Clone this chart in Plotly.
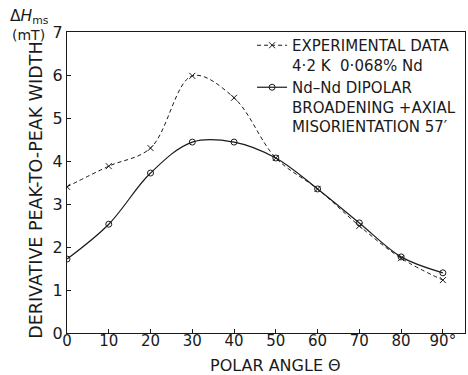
import plotly.graph_objects as go

angles = [0, 10, 20, 30, 40, 50, 60, 70, 80, 90]
experimental = [3.40, 3.88, 4.30, 5.98, 5.47, 4.07, 3.35, 2.49, 1.74, 1.23]
theory = [1.72, 2.53, 3.72, 4.44, 4.44, 4.07, 3.35, 2.56, 1.77, 1.40]
x_ticks = [0, 10, 20, 30, 40, 50, 60, 70, 80, 90]
x_tick_labels = ["0", "10", "20", "30", "40", "50", "60", "70", "80", "90°"]
y_ticks = [0, 1, 2, 3, 4, 5, 6, 7]

FONT = "DejaVu Sans"
INK = "#1a1a1a"

fig = go.Figure()
fig.add_trace(go.Scatter(
    x=angles, y=experimental, mode="lines+markers",
    name="EXPERIMENTAL DATA<br>4·2 K  0·068% Nd",
    line=dict(color=INK, width=1, dash="4px,3px", shape="spline", smoothing=1.0),
    marker=dict(symbol="x-thin-open", size=6, line=dict(color=INK, width=1), color=INK),
))
fig.add_trace(go.Scatter(
    x=angles, y=theory, mode="lines+markers",
    name="Nd–Nd DIPOLAR<br>BROADENING +AXIAL<br>MISORIENTATION 57′",
    line=dict(color=INK, width=1.2, shape="spline", smoothing=1.0),
    marker=dict(symbol="circle-open", size=6, line=dict(color=INK, width=1), color=INK),
))

fig.update_layout(
    width=468, height=375,
    margin=dict(l=67, r=3, t=32, b=42, autoexpand=False),
    paper_bgcolor="white", plot_bgcolor="white",
    font=dict(family=FONT, size=14, color=INK),
    showlegend=True,
    legend=dict(x=0.465, y=1.01, xanchor="left", yanchor="top",
                bgcolor="rgba(0,0,0,0)", valign="top",
                font=dict(family=FONT, size=15, color=INK),
                tracegroupgap=0, itemwidth=30),
)
fig.update_xaxes(
    range=[0, 95.3], tickvals=x_ticks, ticktext=x_tick_labels,
    ticks="inside", ticklen=4, tickcolor=INK,
    showline=True, linecolor=INK, linewidth=1, mirror=True,
    showgrid=False, zeroline=False, ticklabelstandoff=-6,
    tickfont=dict(family=FONT, size=15, color=INK),
)
fig.update_yaxes(
    range=[0, 7], tickvals=y_ticks,
    ticks="inside", ticklen=4, tickcolor=INK,
    showline=True, linecolor=INK, linewidth=1, mirror=True,
    showgrid=False, zeroline=False,
    tickfont=dict(family=FONT, size=16, color=INK),
)
fig.add_annotation(
    text="POLAR ANGLE Θ",
    xref="paper", yref="paper", x=0.525, y=-0.1096, xanchor="center", yanchor="middle",
    showarrow=False, font=dict(family=FONT, size=16, color=INK),
)
fig.add_annotation(
    text="DERIVATIVE PEAK-TO-PEAK WIDTH", textangle=-90,
    xref="paper", yref="paper", x=-0.08, y=0.473, xanchor="center", yanchor="middle",
    showarrow=False, font=dict(family=FONT, size=17.5, color=INK),
)
fig.add_annotation(
    text="Δ<i>H</i><sub>ms</sub>", xref="paper", yref="paper", x=-0.148, y=1.05,
    xanchor="left", yanchor="middle", showarrow=False,
    font=dict(family=FONT, size=15.5, color=INK),
)
fig.add_annotation(
    text="(mT)", xref="paper", yref="paper", x=-0.142, y=0.99,
    xanchor="left", yanchor="middle", showarrow=False,
    font=dict(family=FONT, size=14, color=INK),
)

fig.write_html("out.html", config={"displayModeBar": False},
               post_script="document.body.style.margin='0';")
